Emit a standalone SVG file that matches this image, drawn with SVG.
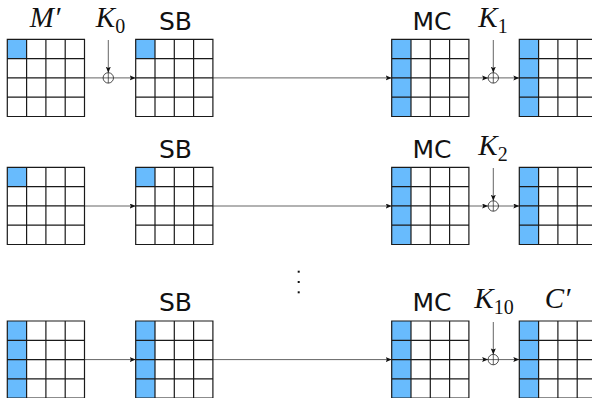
<svg xmlns="http://www.w3.org/2000/svg" xmlns:xlink="http://www.w3.org/1999/xlink" width="592" height="398" viewBox="0 0 592 398">
  <style>
    .bg { fill: #ffffff; }
    .blue { fill: #68bbfd; }
    .grid { fill: none; stroke: #1a1a1a; stroke-width: 1.2; }
    .wire { fill: none; stroke: #222; stroke-width: 0.7; }
    .xor { fill: #ffffff; stroke: #222; stroke-width: 0.8; }
    .sans { font-family: "DejaVu Sans", "Liberation Sans", sans-serif; font-size: 25px; fill: #111; text-anchor: middle; }
    .math { font-family: "Liberation Serif", "DejaVu Serif", serif; font-style: italic; font-size: 29px; fill: #111; text-anchor: middle; }
    .sub { font-style: normal; font-size: 20px; }
  </style>
  <defs>
    <!-- 4x4 state grid, 19.3px cells -->
    <path id="state" class="grid" d="M0 0H77.2V77.2H0Z M19.3 0V77.2 M38.6 0V77.2 M57.9 0V77.2 M0 19.3H77.2 M0 38.6H77.2 M0 57.9H77.2"/>
    <rect id="cell" class="blue" width="19.3" height="19.3"/>
    <rect id="col" class="blue" width="19.3" height="77.2"/>
    <marker id="arr" markerUnits="userSpaceOnUse" markerWidth="8" markerHeight="6" refX="6" refY="2.5" orient="auto">
      <path d="M0 0L6 2.5L0 5L1.2 2.5Z" fill="#111"/>
    </marker>
    <!-- XOR symbol -->
    <g id="oplus">
      <circle class="xor" r="5.2"/>
      <path class="wire" d="M-5.2 0H5.2M0 -5.2V5.2"/>
    </g>
  </defs>

  <rect class="bg" width="592" height="398"/>

  <!-- round 1 -->
  <g id="r1-in" transform="translate(7.3 39.3)">
    <use xlink:href="#cell"/><use xlink:href="#state"/>
  </g>
  <g id="r1-sb" transform="translate(135.7 39.3)">
    <use xlink:href="#cell"/><use xlink:href="#state"/>
  </g>
  <g id="r1-mc" transform="translate(391.7 39.3)">
    <use xlink:href="#col"/><use xlink:href="#state"/>
  </g>
  <g id="r1-out" transform="translate(519.3 39.3)">
    <use xlink:href="#col"/><use xlink:href="#state"/>
  </g>

  <!-- round 2 -->
  <g id="r2-in" transform="translate(7.3 167.3)">
    <use xlink:href="#cell"/><use xlink:href="#state"/>
  </g>
  <g id="r2-sb" transform="translate(135.7 167.3)">
    <use xlink:href="#cell"/><use xlink:href="#state"/>
  </g>
  <g id="r2-mc" transform="translate(391.7 167.3)">
    <use xlink:href="#col"/><use xlink:href="#state"/>
  </g>
  <g id="r2-out" transform="translate(519.3 167.3)">
    <use xlink:href="#col"/><use xlink:href="#state"/>
  </g>

  <!-- last round -->
  <g id="r10-in" transform="translate(7.3 321)">
    <use xlink:href="#col"/><use xlink:href="#state"/>
  </g>
  <g id="r10-sb" transform="translate(135.7 321)">
    <use xlink:href="#col"/><use xlink:href="#state"/>
  </g>
  <g id="r10-mc" transform="translate(391.7 321)">
    <use xlink:href="#col"/><use xlink:href="#state"/>
  </g>
  <g id="r10-out" transform="translate(519.3 321)">
    <use xlink:href="#col"/><use xlink:href="#state"/>
  </g>

  <!-- key additions -->
  <g id="xor0"><use xlink:href="#oplus" x="108.3" y="77.9"/></g>
  <g id="xor1"><use xlink:href="#oplus" x="493.3" y="77.9"/></g>
  <g id="xor2"><use xlink:href="#oplus" x="493.3" y="206"/></g>
  <g id="xor10"><use xlink:href="#oplus" x="493.3" y="359.6"/></g>

  <!-- connectors -->
  <g id="connectors">
    <path class="wire" d="M84.5 77.9H103.1"/>
    <path class="wire" marker-end="url(#arr)" d="M113.5 77.9H135.7"/>
    <path class="wire" marker-end="url(#arr)" d="M212.9 77.9H391.7"/>
    <path class="wire" marker-end="url(#arr)" d="M468.9 77.9H488.1"/>
    <path class="wire" marker-end="url(#arr)" d="M498.5 77.9H519.3"/>
    <path class="wire" marker-end="url(#arr)" d="M108.3 40V72.7"/>
    <path class="wire" marker-end="url(#arr)" d="M493.3 40V72.7"/>

    <path class="wire" marker-end="url(#arr)" d="M84.5 206H135.7"/>
    <path class="wire" marker-end="url(#arr)" d="M212.9 206H391.7"/>
    <path class="wire" marker-end="url(#arr)" d="M468.9 206H488.1"/>
    <path class="wire" marker-end="url(#arr)" d="M498.5 206H519.3"/>
    <path class="wire" marker-end="url(#arr)" d="M493.3 168V200.8"/>

    <path class="wire" marker-end="url(#arr)" d="M84.5 359.6H135.7"/>
    <path class="wire" marker-end="url(#arr)" d="M212.9 359.6H391.7"/>
    <path class="wire" marker-end="url(#arr)" d="M468.9 359.6H488.1"/>
    <path class="wire" marker-end="url(#arr)" d="M498.5 359.6H519.3"/>
    <path class="wire" marker-end="url(#arr)" d="M493.3 322V354.4"/>
  </g>

  <!-- labels -->
  <g id="labels">
    <text class="math" x="45" y="27.3">M′</text>
    <text class="math" x="110.5" y="27.3">K<tspan class="sub" dy="5.5">0</tspan></text>
    <text class="sans" x="175.5" y="29.5">SB</text>
    <text class="sans" x="432" y="29.5">MC</text>
    <text class="math" x="493" y="26.5">K<tspan class="sub" dy="6">1</tspan></text>

    <text class="sans" x="175.5" y="157.5">SB</text>
    <text class="sans" x="432" y="157.5">MC</text>
    <text class="math" x="493" y="154.5">K<tspan class="sub" dy="6">2</tspan></text>

    <text class="sans" x="175.5" y="310.5">SB</text>
    <text class="sans" x="432" y="310.5">MC</text>
    <text class="math" x="494" y="307.5">K<tspan class="sub" dy="6">10</tspan></text>
    <text class="math" x="557.5" y="307.5">C′</text>
  </g>

  <!-- vertical ellipsis between rounds -->
  <g id="vdots" fill="#111">
    <rect x="297.7" y="270.7" width="2" height="2"/>
    <rect x="297.7" y="281" width="2" height="2"/>
    <rect x="297.7" y="291.3" width="2" height="2"/>
  </g>
</svg>
